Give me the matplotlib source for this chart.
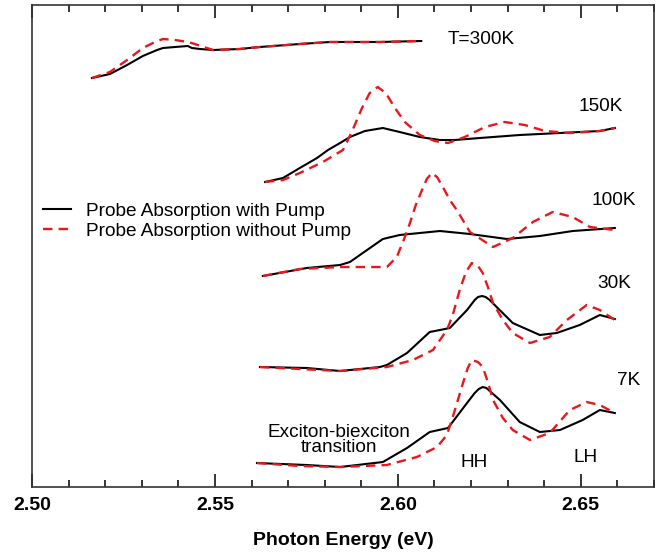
import numpy as np
import matplotlib
matplotlib.use("Agg")
import matplotlib.pyplot as plt
from matplotlib.ticker import MultipleLocator

plt.rcParams['font.family'] = ['Liberation Sans', 'DejaVu Sans']

# photon energy (eV) and absorption (arb. units, curves offset vertically)
e300_pump = [2.5164, 2.5213, 2.5260, 2.5303, 2.5342, 2.5358, 2.5391, 2.5426, 2.5437, 2.5459,
             2.5495, 2.5568, 2.5623, 2.5732, 2.5814, 2.5951, 2.6064]
a300_pump = [409, 413, 422, 431, 437, 439, 440, 441, 439, 438,
             437, 438, 440, 443, 445, 445, 446]
e300_nopump = [2.5164, 2.5213, 2.5260, 2.5303, 2.5336, 2.5358, 2.5391, 2.5426, 2.5445, 2.5478,
               2.5495, 2.5568, 2.5623, 2.5732, 2.5814, 2.5951, 2.6064]
a300_nopump = [409, 415, 427, 439, 445, 448, 447, 445, 443, 439,
               437, 438, 440, 443, 445, 445, 446]

e150_pump = [2.5637, 2.5686, 2.5732, 2.5779, 2.5809, 2.5842, 2.5869, 2.5910, 2.5959, 2.6005,
             2.6060, 2.6115, 2.6156, 2.6224, 2.6333, 2.6443, 2.6552, 2.6593]
a150_pump = [305, 309, 319, 329, 337, 344, 350, 356, 359, 355,
             350, 347, 347, 349, 352, 354, 356, 359]
e150_nopump = [2.5637, 2.5686, 2.5732, 2.5795, 2.5850, 2.5874, 2.5902, 2.5923, 2.5945, 2.5967,
               2.5992, 2.6019, 2.6060, 2.6101, 2.6137, 2.6183, 2.6238, 2.6292, 2.6347, 2.6402,
               2.6470, 2.6552, 2.6593]
a150_nopump = [305, 307, 314, 325, 337, 355, 379, 394, 400, 394,
               379, 365, 352, 346, 344, 350, 360, 365, 362, 356,
               354, 356, 359]

e100_pump = [2.5631, 2.5691, 2.5751, 2.5842, 2.5869, 2.5904, 2.5959, 2.6005, 2.6115, 2.6197,
             2.6298, 2.6388, 2.6478, 2.6593]
a100_pump = [211, 215, 219, 222, 225, 234, 248, 252, 256, 253,
             248, 251, 256, 259]
e100_nopump = [2.5631, 2.5732, 2.5842, 2.5970, 2.5997, 2.6016, 2.6033, 2.6049, 2.6066, 2.6079,
               2.6093, 2.6107, 2.6123, 2.6142, 2.6161, 2.6197, 2.6260, 2.6314, 2.6369, 2.6423,
               2.6478, 2.6525, 2.6593]
a100_nopump = [211, 218, 220, 220, 230, 247, 264, 282, 297, 308,
               314, 310, 300, 287, 277, 255, 240, 249, 265, 275,
               270, 260, 257]

e30_pump = [2.5623, 2.5751, 2.5842, 2.5951, 2.5970, 2.6025, 2.6087, 2.6115, 2.6142, 2.6189,
            2.6210, 2.6219, 2.6230, 2.6240, 2.6251, 2.6270, 2.6314, 2.6388, 2.6434, 2.6497,
            2.6552, 2.6593]
a30_pump = [120, 119, 116, 120, 122, 134, 155, 157, 159, 177,
            187, 190, 191, 190, 187, 180, 164, 152, 154, 162,
            172, 168]
e30_nopump = [2.5623, 2.5732, 2.5842, 2.5970, 2.6041, 2.6096, 2.6134, 2.6150, 2.6169, 2.6186,
              2.6202, 2.6219, 2.6232, 2.6246, 2.6260, 2.6287, 2.6314, 2.6361, 2.6415, 2.6462,
              2.6516, 2.6552, 2.6593]
a30_nopump = [120, 118, 116, 120, 127, 137, 157, 172, 197, 215,
              224, 221, 214, 200, 184, 167, 154, 144, 150, 167,
              182, 177, 167]

e7_pump = [2.5615, 2.5751, 2.5842, 2.5959, 2.6025, 2.6087, 2.6137, 2.6189, 2.6210, 2.6221,
           2.6232, 2.6242, 2.6251, 2.6279, 2.6333, 2.6388, 2.6443, 2.6505, 2.6552, 2.6593]
a7_pump = [24, 22, 20, 25, 39, 55, 59, 84, 94, 98,
           100, 99, 96, 87, 65, 55, 57, 67, 77, 74]
e7_nopump = [2.5615, 2.5732, 2.5842, 2.5970, 2.6052, 2.6107, 2.6134, 2.6150, 2.6164, 2.6178,
             2.6191, 2.6202, 2.6219, 2.6232, 2.6246, 2.6260, 2.6287, 2.6314, 2.6361, 2.6415,
             2.6470, 2.6516, 2.6552, 2.6593]
a7_nopump = [24, 21, 20, 22, 30, 40, 52, 70, 87, 104,
             119, 127, 125, 120, 105, 87, 69, 57, 47, 54,
             77, 85, 82, 74]

pump_curves = [(e300_pump, a300_pump), (e150_pump, a150_pump), (e100_pump, a100_pump),
               (e30_pump, a30_pump), (e7_pump, a7_pump)]
nopump_curves = [(e300_nopump, a300_nopump), (e150_nopump, a150_nopump),
                 (e100_nopump, a100_nopump), (e30_nopump, a30_nopump), (e7_nopump, a7_nopump)]

temp_labels = ["T=300K", "150K", "100K", "30K", "7K"]
temp_label_pos = [(2.6137, 447), (2.6495, 380), (2.6530, 287), (2.6546, 204), (2.6598, 107)]

red = '#e8171c'

fig = plt.figure(figsize=(6.62, 5.55), dpi=100)
ax = fig.add_axes([0.0483, 0.1225, 0.9396, 0.8685])

for i, (e, a) in enumerate(pump_curves):
    ax.plot(e, a, color='black', lw=1.5,
            label='Probe Absorption with Pump' if i == 0 else None)
for i, (e, a) in enumerate(nopump_curves):
    ax.plot(e, a, color=red, lw=1.7, ls=(0, (4, 2.6)),
            label='Probe Absorption without Pump' if i == 0 else None)

for txt, (x, y) in zip(temp_labels, temp_label_pos):
    ax.text(x, y, txt, fontsize=13.7, ha='left', va='center')

ax.text(2.5839, 47, "Exciton-biexciton\ntransition", fontsize=13.7, ha='center',
        va='center', linespacing=0.9)
ax.text(2.6208, 25, "HH", fontsize=13.7, ha='center', va='center')
ax.text(2.6514, 30, "LH", fontsize=13.7, ha='center', va='center')

ax.legend(loc='center left', bbox_to_anchor=(0.0177, 0.552), frameon=False,
          fontsize=13.7, handlelength=1.45, handletextpad=0.8, labelspacing=0.15,
          borderpad=0, borderaxespad=0)

ax.set_xlim(2.50, 2.67)
ax.set_ylim(0, 482)
ax.xaxis.set_major_locator(MultipleLocator(0.05))
ax.xaxis.set_minor_locator(MultipleLocator(0.01))
ax.xaxis.set_major_formatter(matplotlib.ticker.FormatStrFormatter('%.2f'))
ax.set_yticks([])
ax.tick_params(axis='x', which='both', direction='in', top=True, width=1.1,
               labelsize=14, pad=7)
ax.tick_params(axis='x', which='major', length=9.5)
ax.tick_params(axis='x', which='minor', length=5)
for lbl in ax.get_xticklabels():
    lbl.set_fontweight('bold')
for sp in ax.spines.values():
    sp.set_linewidth(1.2)
    sp.set_color('#333333')

ax.set_xlabel('Photon Energy (eV)', fontsize=14, fontweight='bold', labelpad=13)

fig.savefig('out.png', dpi=100)
